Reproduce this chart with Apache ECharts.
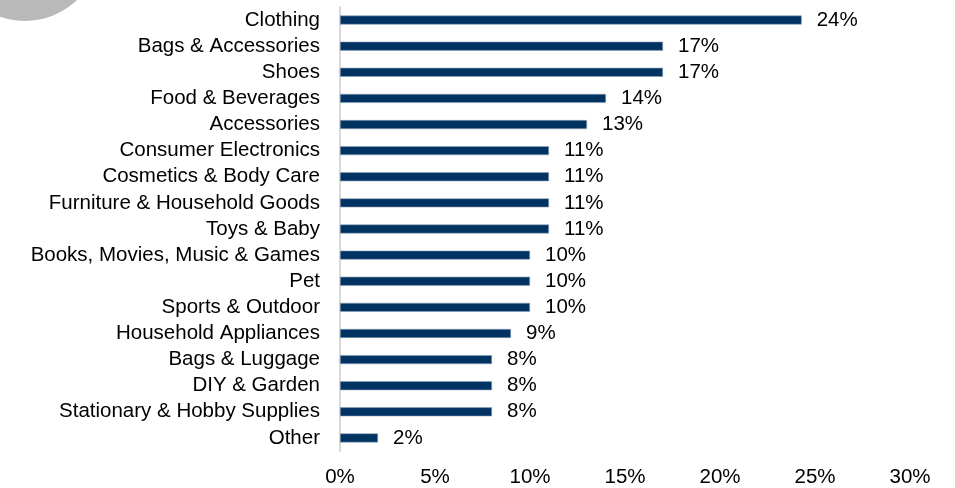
<!DOCTYPE html>
<html><head><meta charset="utf-8">
<script src="https://cdn.jsdelivr.net/npm/echarts@6/dist/echarts.min.js"></script>
<style>html,body{margin:0;padding:0;background:#fff}#c{width:955px;height:488px}</style>
</head><body><div id="c"></div>
<script>
const categories = ["Clothing","Bags & Accessories","Shoes","Food & Beverages","Accessories","Consumer Electronics","Cosmetics & Body Care","Furniture & Household Goods","Toys & Baby","Books, Movies, Music & Games","Pet","Sports & Outdoor","Household Appliances","Bags & Luggage","DIY & Garden","Stationary & Hobby Supplies","Other"];
const values = [24.3,17,17,14,13,11,11,11,11,10,10,10,9,8,8,8,2];
const labels = ["24%","17%","17%","14%","13%","11%","11%","11%","11%","10%","10%","10%","9%","8%","8%","8%","2%"];
const xTicks = [0,5,10,15,20,25,30];

const chart = echarts.init(document.getElementById('c'));
const font = 'Liberation Sans, Arial, sans-serif';
const fs = 20.5;
chart.setOption({
  animation:false,
  graphic:[{type:'circle',shape:{cx:25,cy:-54,r:75},style:{fill:'#b9b9b9'},z:-1}],
  grid:{left:340,right:45,top:7,bottom:35,containLabel:false},
  xAxis:{type:'value',min:0,max:30,interval:5,
    axisLine:{show:false},axisTick:{show:false},splitLine:{show:false},
    axisLabel:{formatter:v=>xTicks.includes(v)?v+'%':'',color:'#000',fontSize:fs,fontFamily:font,margin:16}},
  yAxis:{type:'category',inverse:true,data:categories,
    axisLine:{show:true,lineStyle:{color:'#d9d9d9',width:2}},axisTick:{show:false},
    axisLabel:{interval:0,color:'#000',fontSize:fs,fontFamily:font,margin:20}},
  series:[{type:'bar',data:values,barWidth:9,
    itemStyle:{color:'#003262',borderColor:'#8fa3b8',borderWidth:0.6},
    label:{show:true,position:'right',distance:15,color:'#000',fontSize:fs,fontFamily:font,
      formatter:p=>labels[p.dataIndex]}}]
});
</script></body></html>
